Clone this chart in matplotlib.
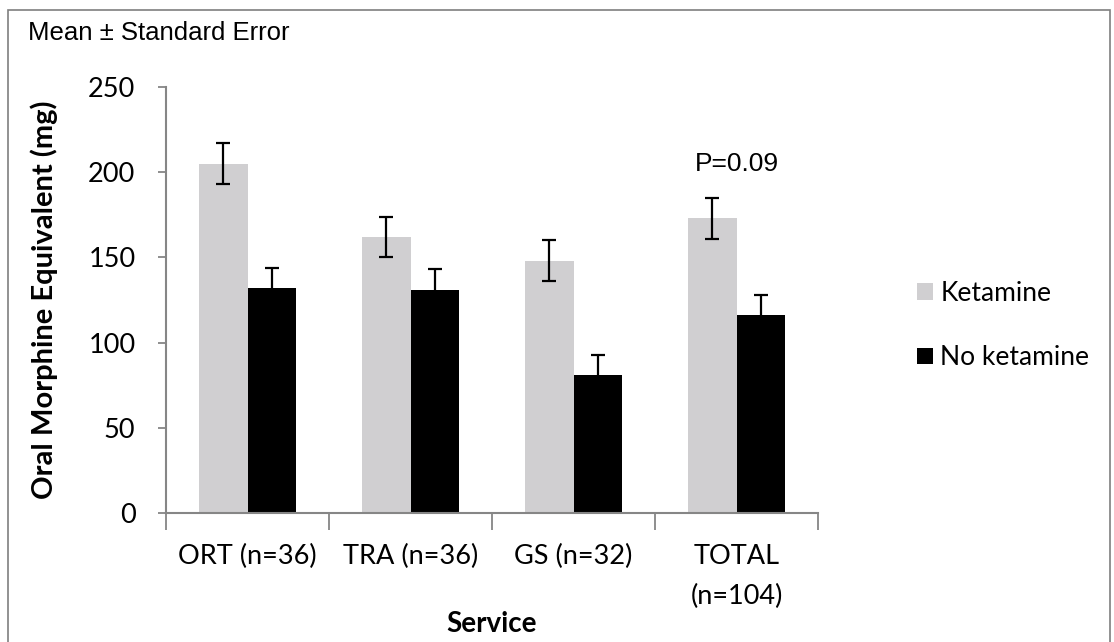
import matplotlib.pyplot as plt
import numpy as np
from matplotlib.patches import Rectangle

categories = ["ORT (n=36)", "TRA (n=36)", "GS (n=32)", "TOTAL\n(n=104)"]
ketamine = [205, 162, 148, 173]
ketamine_se = [12, 12, 12, 12]
no_ketamine = [132, 131, 81, 116]
no_ketamine_se = [12, 12, 12, 12]

fig = plt.figure(figsize=(11.14, 6.42), dpi=100)
ax = fig.add_axes([166 / 1114, 129 / 642, 652 / 1114, 426 / 642])

x = np.arange(len(categories))
w = 0.295
err_kw = dict(ecolor='black', elinewidth=1.6, capsize=5, capthick=1.6)
ax.bar(x - w / 2, ketamine, w, yerr=ketamine_se, color='#d0cfd1', label='Ketamine', error_kw=err_kw)
ax.bar(x + w / 2, no_ketamine, w, yerr=no_ketamine_se, color='black', label='No ketamine', error_kw=err_kw)

ax.set_xlim(-0.5, 3.5)
ax.set_ylim(0, 250)
ax.set_yticks(range(0, 251, 50))
ax.set_xticks(x)
ax.set_xticklabels(categories, family='Lato', fontsize=19.5, linespacing=1.75)
ax.set_xticks(np.arange(-0.5, 4, 1), minor=True)
ax.tick_params(axis='x', which='major', length=0, pad=22)
ax.tick_params(axis='x', which='minor', length=12, width=1.3, color='#868686', direction='out')
ax.tick_params(axis='y', length=6, width=1.3, color='#868686', labelsize=19.5, pad=16)
for lab in ax.get_yticklabels():
    lab.set_family('Lato')

for s in ['top', 'right']:
    ax.spines[s].set_visible(False)
for s in ['left', 'bottom']:
    ax.spines[s].set_color('#868686')
    ax.spines[s].set_linewidth(1.5)

ax.set_ylabel('Oral Morphine Equivalent (mg)', family='Lato', fontweight='bold', fontsize=21)
ax.yaxis.set_label_coords(-0.166, 0.5)
ax.set_xlabel('Service', family='Lato', fontweight='bold', fontsize=20, labelpad=2)

ax.text(3, 198, 'P=0.09', ha='center', va='bottom', family='Liberation Sans', fontsize=19)

fig.text(28 / 1114, 1 - 33 / 642, 'Mean \u00b1 Standard Error', ha='left', va='center',
         family='Liberation Sans', fontsize=18.5)

ax.legend(loc='center left', bbox_to_anchor=(1.115, 0.44), frameon=False,
          prop={'family': 'Lato', 'size': 19}, handlelength=0.6, handleheight=0.6,
          handletextpad=0.3, labelspacing=1.5)

fig.patches.append(Rectangle((8 / 1114, -0.05), 1102 / 1114, 1.05 - 10 / 642,
                             transform=fig.transFigure, fill=False, edgecolor='#7f7f7f', linewidth=1.2))

fig.savefig('out.png', dpi=100)
